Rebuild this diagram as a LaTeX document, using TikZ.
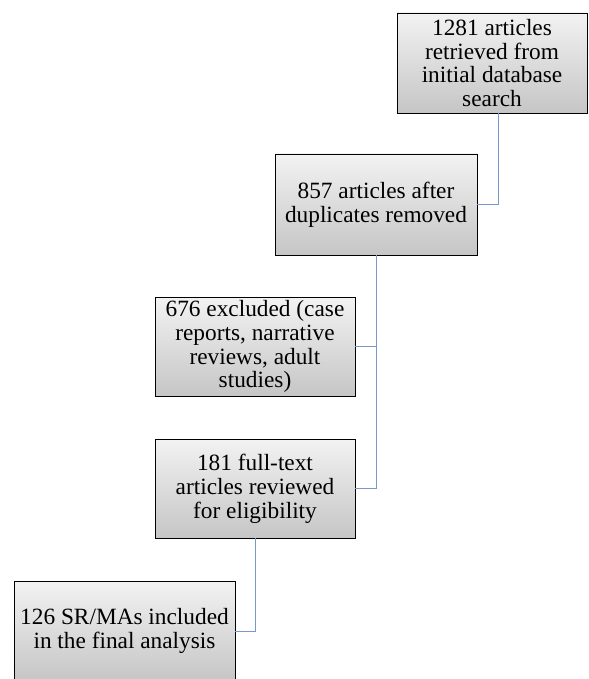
\documentclass[tikz,border=0pt]{standalone}
\usepackage{fontspec}
\setmainfont{Liberation Serif}
\usetikzlibrary{shadows}

\definecolor{linkblue}{RGB}{120,152,202}

\tikzset{
	stagebox/.style={rectangle, draw=black, line width=0.7pt, top color=gray!10, bottom color=gray!45, align=center, inner sep=0pt, font=\fontsize{19.9}{20.4}\selectfont, drop shadow={shadow xshift=0.6pt, shadow yshift=-0.6pt, opacity=0.35}},
	link/.style={draw=linkblue, line width=0.8pt}
}

\begin{document}
\begin{tikzpicture}[x=0.03cm, y=-0.03cm]

		\useasboundingbox (0,0) rectangle (588,679);
		\clip (0,0) rectangle (588,679);

		\draw (492,63) node (retrieved) [stagebox, minimum width=190*0.03cm, minimum height=100*0.03cm] {1281 articles\\retrieved from\\initial database\\search};
		\draw (376,204.5) node (deduped) [stagebox, minimum width=202*0.03cm, minimum height=101*0.03cm] {857 articles after\\duplicates removed};
		\draw (255,346.5) node (excluded) [stagebox, minimum width=200*0.03cm, minimum height=99*0.03cm] {676 excluded (case\\reports, narrative\\reviews, adult\\studies)};
		\draw (255,488.5) node (fulltext) [stagebox, minimum width=200*0.03cm, minimum height=99*0.03cm] {181 full-text\\articles reviewed\\for eligibility};
		\draw (124.5,631) node (included) [stagebox, minimum width=221*0.03cm, minimum height=100*0.03cm] {126 SR/MAs included\\in the final analysis};

		\coordinate (retrievedout) at ([xshift=6*0.03cm]retrieved.south);

		\draw[link] (retrievedout) |- (deduped.east);
		\draw[link] (deduped.south) |- (excluded.east);
		\draw[link] (deduped.south) |- (fulltext.east);
		\draw[link] (fulltext.south) |- (included.east);
	\end{tikzpicture}
\end{document}
